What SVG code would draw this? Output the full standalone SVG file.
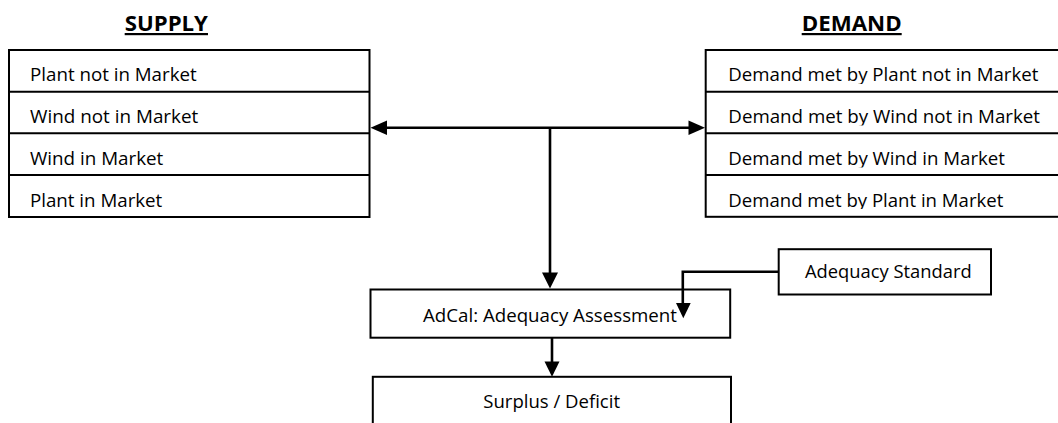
<svg xmlns="http://www.w3.org/2000/svg" width="1058" height="423" viewBox="0 0 1058 423">
<style>
  .box{fill:#fff;stroke:#000;stroke-width:2}
  .row{stroke:#000;stroke-width:2}
  .t{font-family:"Open Sans","Liberation Sans",sans-serif;font-size:17.5px;fill:#000}
  .h{font-family:"Open Sans","Liberation Sans",sans-serif;font-size:22px;font-weight:bold;fill:#000;text-decoration:underline}
  .c{fill:none;stroke:#000;stroke-width:2.6}
  .ah{fill:#000;stroke:none}
</style>
<defs>
  <clipPath id="d1"><rect x="706" y="51" width="352" height="33"/></clipPath>
  <clipPath id="d2"><rect x="706" y="93" width="352" height="32.5"/></clipPath>
  <clipPath id="d3"><rect x="706" y="134" width="352" height="33.5"/></clipPath>
  <clipPath id="d4"><rect x="706" y="176" width="352" height="33"/></clipPath>
</defs>
<rect width="1058" height="423" fill="#fff"/>

<g id="supply-title"><text class="h" x="124.7" y="31" textLength="83.3" lengthAdjust="spacingAndGlyphs">SUPPLY</text></g>
<g id="demand-title"><text class="h" x="801.7" y="31" textLength="100" lengthAdjust="spacingAndGlyphs">DEMAND</text></g>

<g id="supply">
  <rect class="box" x="9" y="50" width="360.5" height="167"/>
  <line class="row" x1="9" y1="91.7" x2="369.5" y2="91.7"/>
  <line class="row" x1="9" y1="133.3" x2="369.5" y2="133.3"/>
  <line class="row" x1="9" y1="175" x2="369.5" y2="175"/>
  <text class="t" x="30" y="81" textLength="166.7" lengthAdjust="spacingAndGlyphs">Plant not in Market</text>
  <text class="t" x="30" y="123.3" textLength="168.3" lengthAdjust="spacingAndGlyphs">Wind not in Market</text>
  <text class="t" x="30" y="165" textLength="133.3" lengthAdjust="spacingAndGlyphs">Wind in Market</text>
  <text class="t" x="30" y="206.7" textLength="132.3" lengthAdjust="spacingAndGlyphs">Plant in Market</text>
</g>

<g id="demand">
  <rect class="box" x="705.7" y="50" width="370" height="166.8"/>
  <line class="row" x1="705.7" y1="91.7" x2="1058" y2="91.7"/>
  <line class="row" x1="705.7" y1="133.3" x2="1058" y2="133.3"/>
  <line class="row" x1="705.7" y1="175" x2="1058" y2="175"/>
  <text class="t" clip-path="url(#d1)" x="728.3" y="81" textLength="310" lengthAdjust="spacingAndGlyphs">Demand met by Plant not in Market</text>
  <text class="t" clip-path="url(#d2)" x="728.3" y="122.7" textLength="311.7" lengthAdjust="spacingAndGlyphs">Demand met by Wind not in Market</text>
  <text class="t" clip-path="url(#d3)" x="728.3" y="165" textLength="276.7" lengthAdjust="spacingAndGlyphs">Demand met by Wind in Market</text>
  <text class="t" clip-path="url(#d4)" x="728.3" y="206.7" textLength="275" lengthAdjust="spacingAndGlyphs">Demand met by Plant in Market</text>
</g>

<g id="adcal">
  <rect class="box" x="370.5" y="289.5" width="359.7" height="48.2"/>
  <text class="t" x="423" y="321.7" textLength="254" lengthAdjust="spacingAndGlyphs">AdCal: Adequacy Assessment</text>
</g>

<g id="adequacy-standard">
  <rect class="box" x="778.7" y="249.2" width="212.3" height="45.3"/>
  <text class="t" x="805" y="277.7" textLength="166.7" lengthAdjust="spacingAndGlyphs">Adequacy Standard</text>
</g>

<g id="surplus">
  <rect class="box" x="372.8" y="376.8" width="358.2" height="60"/>
  <text class="t" x="483.3" y="408.3" textLength="136.7" lengthAdjust="spacingAndGlyphs">Surplus / Deficit</text>
</g>

<g id="connectors">
  <line class="c" x1="385" y1="127.7" x2="691" y2="127.7"/>
  <path class="ah" d="M370.5,127.7 L387,120.5 L387,134.9 Z"/>
  <path class="ah" d="M705,127.7 L688.5,120.5 L688.5,134.9 Z"/>
  <line class="c" x1="550" y1="127.7" x2="550" y2="274"/>
  <path class="ah" d="M550,288.5 L542,272.5 L558,272.5 Z"/>
  <line class="c" x1="552" y1="337.7" x2="552" y2="363"/>
  <path class="ah" d="M552,376.7 L544.5,361.5 L559.5,361.5 Z"/>
  <polyline class="c" points="778.7,271.7 682.8,271.7 682.8,305"/>
  <path class="ah" d="M683.3,318.3 L676,303 L690.7,303 Z"/>
</g>
</svg>
